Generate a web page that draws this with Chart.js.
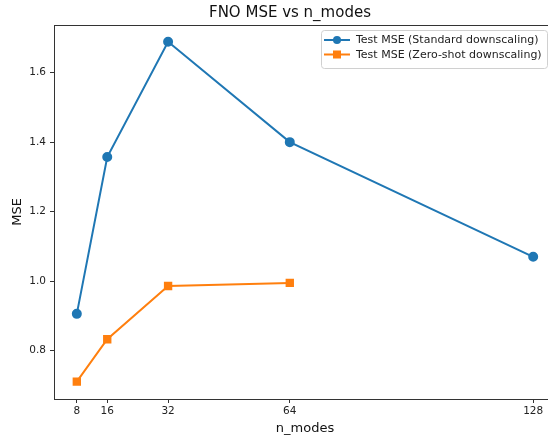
<!DOCTYPE html>
<html>
<head>
<meta charset="utf-8">
<script src="https://cdn.jsdelivr.net/npm/chart.js@4.4.1/dist/chart.umd.min.js"></script>
<style>
  html, body { margin: 0; padding: 0; background: #fff; overflow: hidden; }
  #wrap { position: relative; width: 572px; height: 436px; }
</style>
</head>
<body>
<div id="wrap"><canvas id="chartArea"></canvas></div>
<script>
const nModes = [8, 16, 32, 64, 128];
const standardMse = [0.906, 1.357, 1.689, 1.400, 1.070];
const zeroShotMse = [0.711, 0.833, 0.986, 0.995];
const xTicks = [8, 16, 32, 64, 128];
const yTicks = [0.8, 1.0, 1.2, 1.4, 1.6];
const titleText = "FNO MSE vs n_modes";

const blue = "#1f77b4";
const orange = "#ff7f0e";
const font = "'DejaVu Sans', sans-serif";

const toPoints = (xs, ys) => ys.map((y, i) => ({x: xs[i], y: y}));

// matplotlib style frame, title + legend inside the axes
const mplFrame = {
    id: "mplFrame",
    afterDraw(chart) {
        const {ctx, chartArea: a} = chart;
        ctx.save();
        ctx.strokeStyle = "#333";
        ctx.lineWidth = 1;
        ctx.strokeRect(a.left + 0.5, a.top + 0.5, a.right - a.left, a.bottom - a.top);

        // title (figure centred, the right part of the figure is cropped)
        ctx.fillStyle = "#111";
        ctx.font = "15px " + font;
        ctx.textAlign = "center";
        ctx.textBaseline = "middle";
        ctx.fillText(titleText, 290, 13);
        ctx.textAlign = "left";

        // legend box
        const right = a.right - 9, left = right - 226, top = a.top + 5, h = 38;
        ctx.fillStyle = "rgba(255,255,255,0.8)";
        ctx.strokeStyle = "#d0d0d0";
        ctx.beginPath();
        ctx.roundRect(left + 0.5, top + 0.5, right - left, h, 3);
        ctx.fill();
        ctx.stroke();
        chart.data.datasets.forEach((ds, i) => {
            const y = top + 10 + i * 14.5;
            ctx.strokeStyle = ds.borderColor;
            ctx.lineWidth = 2;
            ctx.beginPath();
            ctx.moveTo(left + 3, y);
            ctx.lineTo(left + 29, y);
            ctx.stroke();
            ctx.fillStyle = ds.backgroundColor;
            if (ds.pointStyle === "rect") {
                ctx.fillRect(left + 16 - 4, y - 4, 8, 8);
            } else {
                ctx.beginPath();
                ctx.arc(left + 16, y, 4, 0, Math.PI * 2);
                ctx.fill();
            }
            ctx.fillStyle = "#222";
            ctx.font = "11px " + font;
            ctx.textBaseline = "middle";
            ctx.fillText(ds.label, left + 35, y + 0.5);
        });
        ctx.restore();
    }
};

const chart = new Chart(document.getElementById("chartArea"), {
    type: "line",
    data: {
        datasets: [{
            label: "Test MSE (Standard downscaling)",
            data: toPoints(nModes, standardMse),
            borderColor: blue,
            backgroundColor: blue,
            borderWidth: 2,
            pointStyle: "circle",
            pointRadius: 4,
            pointHoverRadius: 4,
            tension: 0
        }, {
            label: "Test MSE (Zero-shot downscaling)",
            data: toPoints(nModes, zeroShotMse),
            borderColor: orange,
            backgroundColor: orange,
            borderWidth: 2,
            pointStyle: "rect",
            pointRadius: 4.5,
            pointHoverRadius: 4.5,
            tension: 0
        }]
    },
    options: {
        responsive: true,
        maintainAspectRatio: false,
        animation: false,
        layout: { padding: { left: 0, right: 16, top: 25, bottom: 0 } },
        plugins: {
            legend: { display: false },
            tooltip: { enabled: false },
            title: { display: false }
        },
        scales: {
            x: {
                type: "linear",
                min: 2,
                max: 134,
                afterBuildTicks: s => { s.ticks = xTicks.map(v => ({value: v})); },
                afterFit: s => { s.height = 37; },
                grid: { display: true, drawOnChartArea: false, drawTicks: true, tickLength: 4, color: "#333" },
                border: { display: true, color: "#333" },
                ticks: { color: "#222", font: { family: font, size: 10.5 }, padding: 2, maxRotation: 0, autoSkip: false,
                          callback: v => String(v) },
                title: { display: true, text: "n_modes", color: "#111", font: { family: font, size: 13 }, padding: { top: 0, bottom: 0 } }
            },
            y: {
                min: 0.661,
                max: 1.737,
                afterBuildTicks: s => { s.ticks = yTicks.map(v => ({value: v})); },
                afterFit: s => { s.width = 54; },
                grid: { display: true, drawOnChartArea: false, drawTicks: true, tickLength: 4, color: "#333" },
                border: { display: true, color: "#333" },
                ticks: { color: "#222", font: { family: font, size: 10.5 }, padding: 4,
                          callback: v => v.toFixed(1) },
                title: { display: true, text: "MSE", color: "#111", font: { family: font, size: 13 }, padding: { top: 10, bottom: 2 } }
            }
        }
    },
    plugins: [mplFrame]
});
</script>
</body>
</html>
